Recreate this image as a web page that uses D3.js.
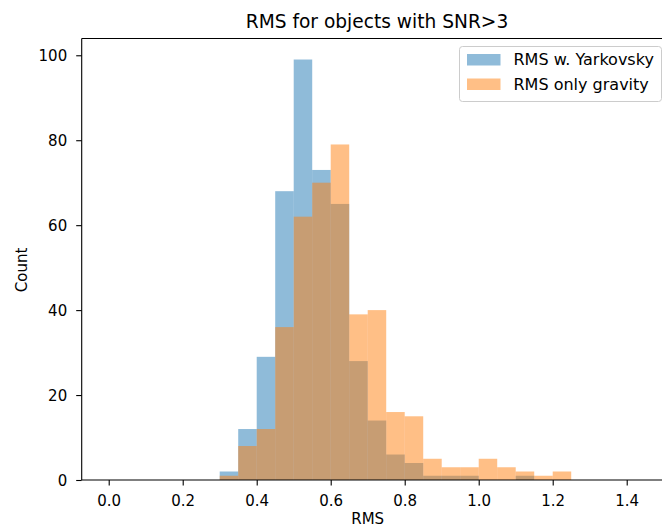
<!DOCTYPE html>
<html>
<head>
<meta charset="utf-8">
<script src="https://cdn.jsdelivr.net/npm/d3@7"></script>
<style>
  body { margin: 0; background: #fff; }
  svg { font-family: "DejaVu Sans", sans-serif; }
</style>
</head>
<body>
<svg id="chart" width="662" height="528"></svg>
<script>
// bin left edges, width 0.05
var binEdges = [0.00, 0.05, 0.10, 0.15, 0.20, 0.25, 0.30, 0.35, 0.40, 0.45,
                0.50, 0.55, 0.60, 0.65, 0.70, 0.75, 0.80, 0.85, 0.90, 0.95,
                1.00, 1.05, 1.10, 1.15, 1.20, 1.25, 1.30, 1.35, 1.40, 1.45];
var binWidth = 0.05;
var yarkovsky = [0, 0, 0, 0, 0, 0, 2, 12, 29, 68,
                 99, 73, 65, 28, 14, 6, 4, 1, 1, 1,
                 0, 0, 1, 0, 0, 0, 0, 0, 0, 0];
var gravity   = [0, 0, 0, 0, 0, 0, 1, 8, 12, 36,
                 62, 70, 79, 39, 40, 16, 15, 5, 3, 3,
                 5, 3, 2, 1, 2, 0, 0, 0, 0, 0];
var xTicks = [0.0, 0.2, 0.4, 0.6, 0.8, 1.0, 1.2, 1.4];
var yTicks = [0, 20, 40, 60, 80, 100];
var seriesNames = ['RMS w. Yarkovsky', 'RMS only gravity'];
var seriesColors = ['#1f77b4', '#ff7f0e'];

var svg = d3.select('#chart');
var plotLeft = 81.7, plotTop = 38.5, plotBottom = 480;
var tickFont = '15px';

var x = d3.scaleLinear().domain([-0.073, 1.575]).range([plotLeft, plotLeft + 1.648 * 370]);
var y = d3.scaleLinear().domain([0, 103.95]).range([plotBottom, plotTop]);

var plot = svg.append('g');
[yarkovsky, gravity].forEach(function(vals, s) {
  plot.append('g').selectAll('rect')
    .data(vals).enter().append('rect')
    .attr('x', function(d, i) { return x(binEdges[i]); })
    .attr('width', function(d, i) { return x(binEdges[i] + binWidth) - x(binEdges[i]); })
    .attr('y', function(d) { return y(d); })
    .attr('height', function(d) { return y(0) - y(d); })
    .attr('fill', seriesColors[s]).attr('fill-opacity', 0.5);
});

// axes
var xAxis = d3.axisBottom(x).tickValues(xTicks).tickFormat(d3.format('.1f'))
  .tickSize(5.5).tickPadding(4);
var gx = svg.append('g').attr('transform', 'translate(0,' + plotBottom + ')').call(xAxis);
var yAxis = d3.axisLeft(y).tickValues(yTicks).tickSize(5.5).tickPadding(9);
var gy = svg.append('g').attr('transform', 'translate(' + plotLeft + ',0)').call(yAxis);
[gx, gy].forEach(function(g) {
  g.select('.domain').remove();
  g.selectAll('.tick line').attr('stroke', '#000').attr('stroke-width', 1.1);
  g.selectAll('.tick text').attr('fill', '#000').style('font-size', tickFont)
    .style('font-family', '"DejaVu Sans", sans-serif');
});
gx.selectAll('.tick text').attr('y', 25.7).attr('dy', null);
gy.selectAll('.tick text').attr('dy', '0.36em');

// spines (right spine is off the canvas)
svg.append('line').attr('x1', plotLeft).attr('x2', plotLeft).attr('y1', plotTop).attr('y2', plotBottom)
  .attr('stroke', '#000').attr('stroke-width', 1.1);
svg.append('line').attr('x1', plotLeft).attr('x2', 662).attr('y1', plotBottom).attr('y2', plotBottom)
  .attr('stroke', '#000').attr('stroke-width', 1.1);
svg.append('line').attr('x1', plotLeft).attr('x2', 662).attr('y1', plotTop).attr('y2', plotTop)
  .attr('stroke', '#000').attr('stroke-width', 1.1);

// labels
svg.append('text').attr('x', 377).attr('y', 28).attr('text-anchor', 'middle')
  .style('font-size', '18.6px').text('RMS for objects with SNR>3');
svg.append('text').attr('x', x(0.7)).attr('y', 524).attr('text-anchor', 'middle')
  .style('font-size', tickFont).text('RMS');
svg.append('text').attr('transform', 'translate(27,270) rotate(-90)')
  .attr('text-anchor', 'middle').style('font-size', tickFont).text('Count');

// legend
var leg = svg.append('g').attr('transform', 'translate(459.5,46.5)');
leg.append('rect').attr('width', 202).attr('height', 55).attr('rx', 3)
  .attr('fill', '#fff').attr('fill-opacity', 0.8).attr('stroke', '#cccccc');
seriesNames.forEach(function(name, i) {
  leg.append('rect').attr('x', 7.5).attr('y', 7.5 + i * 24.5).attr('width', 33.5).attr('height', 11.5)
    .attr('fill', seriesColors[i]).attr('fill-opacity', 0.5);
  leg.append('text').attr('x', 54).attr('y', 13.2 + i * 24.5).attr('dy', '0.36em')
    .style('font-size', '16px').text(name);
});
</script>
</body>
</html>
